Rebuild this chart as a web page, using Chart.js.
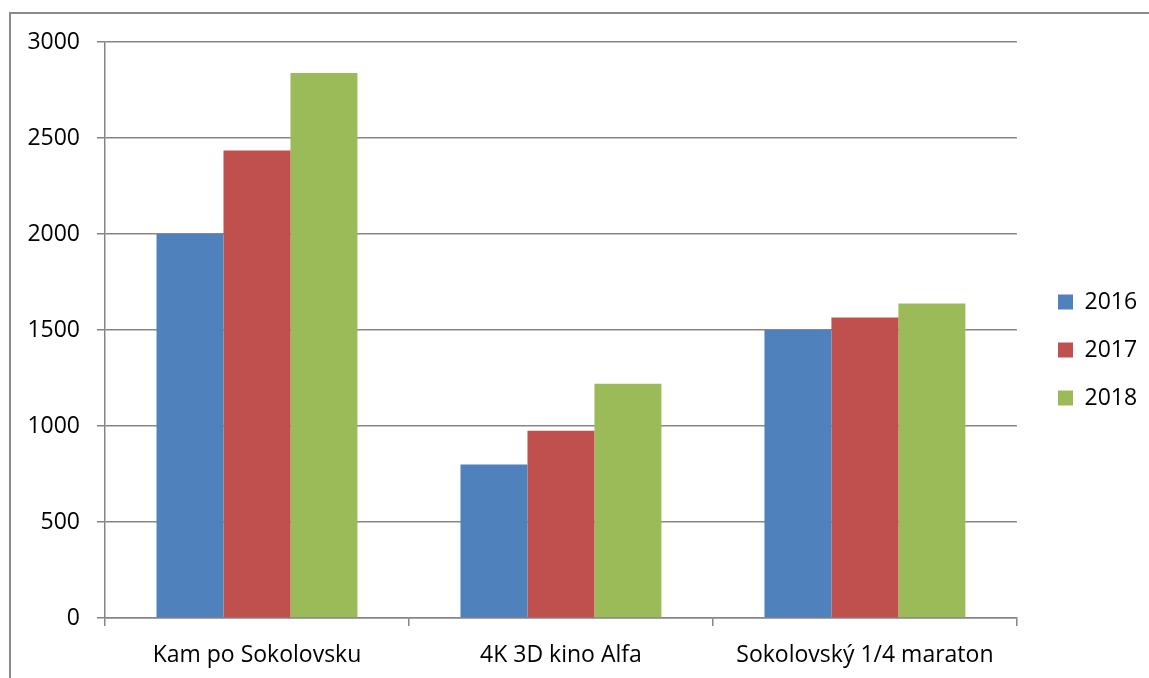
<!DOCTYPE html>
<html>
<head>
<meta charset="utf-8">
<script src="https://cdn.jsdelivr.net/npm/chart.js@4"></script>
<style>
  html, body { margin: 0; padding: 0; background: #fff; }
  #wrap { position: relative; width: 1149px; height: 678px; overflow: hidden; }
  #frame { position: absolute; left: 9px; top: 12px; width: 1160px; height: 700px;
           border-top: 2px solid #8a8a8a; border-left: 2px solid #8a8a8a; box-sizing: border-box; }
  canvas { position: absolute; left: 0; top: 0; }
</style>
</head>
<body>
<div id="wrap">
  <div id="frame"></div>
  <canvas id="chart" width="1149" height="678"></canvas>
</div>
<script>
// values
const categories = ['Kam po Sokolovsku', '4K 3D kino Alfa', 'Sokolovský 1/4 maraton'];
const years = ['2016', '2017', '2018'];
const values2016 = [2000, 800, 1500];
const values2017 = [2435, 975, 1565];
const values2018 = [2838, 1220, 1638];
const yTicks = [0, 500, 1000, 1500, 2000, 2500, 3000];

const colours = ['#4F81BD', '#C0504D', '#9BBB59'];
const gridColour = '#868686';
const font = { family: '"Open Sans", sans-serif', size: 23 };
const legendPadding = 25;
const legendBoxX = 1058;
const legendUp = 10;

const series = [values2016, values2017, values2018];

// move the legend a bit, like in the original
const legendShift = {
    id: 'legendShift',
    afterLayout(chart) {
        const lg = chart.legend;
        const dx = legendBoxX - (lg.left + legendPadding);
        lg.left += dx;
        lg.right += dx;
        lg.top -= legendUp;
        lg.bottom -= legendUp;
    }
};

new Chart(document.getElementById('chart'), {
    type: 'bar',
    data: {
        labels: categories,
        datasets: years.map((y, i) => ({
            label: y,
            data: series[i],
            backgroundColor: colours[i],
            borderWidth: 0,
            categoryPercentage: 0.661,
            barPercentage: 1.0
        }))
    },
    options: {
        responsive: false,
        animation: false,
        layout: { padding: { top: 42, right: 18, bottom: 0, left: 0 } },
        plugins: {
            tooltip: { enabled: false },
            legend: {
                position: 'right',
                labels: {
                    color: '#000',
                    font: font,
                    boxWidth: 15,
                    boxHeight: 15,
                    padding: legendPadding
                }
            }
        },
        scales: {
            x: {
                grid: { drawOnChartArea: false, drawTicks: true, tickLength: 8, color: gridColour, lineWidth: 1.5 },
                border: { color: gridColour, width: 1.5 },
                ticks: { color: '#000', font: font, padding: 16, maxRotation: 0 },
                afterFit: (s) => { s.height = 60; }
            },
            y: {
                min: 0,
                max: 3000,
                afterBuildTicks: (s) => { s.ticks = yTicks.map(v => ({ value: v })); },
                grid: { color: gridColour, lineWidth: 1.5, tickLength: 8 },
                border: { color: gridColour, width: 1.5 },
                ticks: { color: '#000', font: font, padding: 17, callback: (v) => String(v) },
                afterFit: (s) => { s.width = 105; }
            }
        }
    },
    plugins: [legendShift]
});
</script>
</body>
</html>
